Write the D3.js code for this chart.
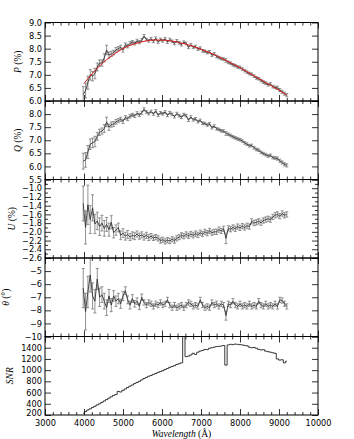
<!DOCTYPE html>
<html><head><meta charset="utf-8">
<script src="https://cdn.jsdelivr.net/npm/d3@7"></script>
<style>body{margin:0;background:#fff}svg{display:block}</style>
</head><body><svg id="c" width="354" height="439"></svg>
<script>
const wavelength = [3980,4040,4100,4160,4220,4280,4340,4400,4460,4520,4580,4640,4700,4760,4820,4880,4940,5000,5060,5120,5180,5240,5300,5360,5420,5480,5540,5600,5660,5720,5780,5840,5900,5960,6020,6080,6140,6200,6260,6320,6380,6440,6500,6560,6620,6680,6740,6800,6860,6920,6980,7040,7100,7160,7220,7280,7340,7400,7460,7520,7580,7640,7700,7760,7820,7880,7940,8000,8060,8120,8180,8240,8300,8360,8420,8480,8540,8600,8660,8720,8780,8840,8900,8960,9020,9080,9140,9200];
const pValues = [6.25,6.40,6.70,7.00,6.95,7.05,7.30,7.45,7.45,7.65,7.95,7.75,7.80,7.85,7.95,8.00,8.05,7.95,8.15,8.10,8.20,8.25,8.20,8.30,8.25,8.32,8.48,8.35,8.30,8.38,8.28,8.40,8.25,8.35,8.30,8.38,8.25,8.35,8.28,8.20,8.30,8.22,8.15,8.25,8.20,8.05,8.15,8.05,8.08,7.98,8.02,7.92,7.90,7.85,7.88,7.75,7.80,7.70,7.66,7.62,7.60,7.55,7.48,7.44,7.38,7.35,7.30,7.28,7.22,7.16,7.10,7.05,7.02,6.95,6.88,6.85,6.78,6.72,6.68,6.62,6.65,6.55,6.52,6.50,6.42,6.35,6.28,6.22];
const pErrors = [0.30,0.28,0.25,0.20,0.18,0.20,0.15,0.12,0.12,0.15,0.18,0.12,0.10,0.09,0.09,0.08,0.08,0.08,0.07,0.07,0.07,0.06,0.06,0.06,0.06,0.06,0.06,0.05,0.05,0.05,0.05,0.05,0.05,0.05,0.05,0.05,0.05,0.05,0.05,0.05,0.05,0.05,0.05,0.05,0.05,0.05,0.05,0.05,0.05,0.05,0.05,0.05,0.05,0.05,0.05,0.05,0.05,0.05,0.05,0.05,0.05,0.07,0.05,0.05,0.05,0.05,0.05,0.05,0.05,0.05,0.05,0.05,0.05,0.05,0.05,0.05,0.05,0.05,0.05,0.05,0.05,0.05,0.05,0.06,0.06,0.06,0.06,0.06];
const fitWave = [4000,4200,4400,4600,4800,5000,5200,5400,5600,5800,6000,6200,6400,6600,6800,7000,7200,7400,7600,7800,8000,8200,8400,8600,8800,9000,9200];
const fitP = [6.67,7.03,7.34,7.60,7.82,8.00,8.14,8.23,8.30,8.33,8.33,8.30,8.25,8.18,8.09,7.98,7.86,7.73,7.58,7.43,7.27,7.10,6.93,6.76,6.59,6.41,6.23];
const qValues = [6.20,6.25,6.55,6.85,6.90,6.95,7.15,7.30,7.35,7.45,7.70,7.50,7.60,7.62,7.70,7.75,7.80,7.72,7.87,7.82,7.92,7.97,7.93,8.03,7.97,8.05,8.18,8.08,8.02,8.10,8.00,8.12,7.96,8.05,8.01,8.08,7.95,8.05,7.99,7.90,8.02,7.94,7.88,7.98,7.94,7.77,7.89,7.78,7.82,7.71,7.76,7.65,7.64,7.58,7.63,7.48,7.54,7.44,7.41,7.36,7.35,7.26,7.23,7.18,7.13,7.09,7.05,7.02,6.97,6.90,6.85,6.79,6.80,6.71,6.65,6.62,6.54,6.49,6.45,6.40,6.42,6.34,6.32,6.30,6.22,6.15,6.08,6.04];
const qErrors = [0.30,0.28,0.25,0.20,0.18,0.20,0.15,0.12,0.12,0.15,0.18,0.12,0.10,0.09,0.09,0.08,0.08,0.08,0.07,0.07,0.07,0.06,0.06,0.06,0.06,0.06,0.06,0.05,0.05,0.05,0.05,0.05,0.05,0.05,0.05,0.05,0.05,0.05,0.05,0.05,0.05,0.05,0.05,0.05,0.05,0.05,0.05,0.05,0.05,0.05,0.05,0.05,0.05,0.05,0.05,0.05,0.05,0.05,0.05,0.05,0.05,0.07,0.05,0.05,0.05,0.05,0.05,0.05,0.05,0.05,0.05,0.05,0.05,0.05,0.05,0.05,0.05,0.05,0.05,0.05,0.05,0.05,0.05,0.06,0.06,0.06,0.06,0.06];
const uValues = [-1.35,-1.90,-1.38,-1.72,-1.45,-1.82,-1.75,-1.88,-1.80,-1.92,-1.83,-1.95,-1.78,-2.02,-1.96,-1.90,-2.08,-2.03,-2.10,-2.06,-2.12,-2.08,-2.10,-2.05,-2.10,-2.07,-2.12,-2.08,-2.13,-2.10,-2.14,-2.12,-2.15,-2.20,-2.18,-2.22,-2.19,-2.21,-2.17,-2.20,-2.15,-2.12,-2.08,-2.10,-2.06,-2.09,-2.05,-2.08,-2.04,-2.07,-2.02,-2.05,-2.00,-2.03,-1.98,-2.02,-2.00,-2.00,-1.95,-1.98,-1.93,-2.15,-1.92,-1.94,-1.90,-1.93,-1.88,-1.91,-1.87,-1.90,-1.86,-1.88,-1.76,-1.80,-1.78,-1.76,-1.79,-1.74,-1.72,-1.70,-1.72,-1.66,-1.62,-1.60,-1.64,-1.58,-1.62,-1.60];
const uErrors = [0.40,0.38,0.45,0.32,0.30,0.22,0.20,0.20,0.18,0.18,0.16,0.15,0.15,0.12,0.12,0.10,0.10,0.10,0.09,0.09,0.08,0.08,0.08,0.07,0.07,0.07,0.07,0.07,0.07,0.06,0.06,0.06,0.06,0.06,0.06,0.06,0.06,0.06,0.06,0.06,0.06,0.06,0.06,0.06,0.06,0.06,0.06,0.06,0.06,0.06,0.06,0.06,0.06,0.06,0.06,0.06,0.06,0.06,0.06,0.06,0.06,0.12,0.06,0.06,0.06,0.06,0.06,0.06,0.06,0.06,0.06,0.06,0.06,0.06,0.06,0.06,0.06,0.06,0.06,0.06,0.06,0.06,0.06,0.06,0.06,0.06,0.06,0.06];
const thetaValues = [-6.3,-8.1,-6.6,-5.3,-6.9,-7.3,-5.6,-7.0,-6.8,-7.3,-7.8,-6.9,-7.6,-6.9,-7.3,-7.1,-7.5,-6.9,-6.5,-7.2,-7.6,-7.1,-7.5,-7.3,-7.7,-7.0,-7.4,-7.6,-7.4,-7.5,-7.7,-7.5,-7.6,-7.4,-7.6,-7.5,-7.2,-7.6,-7.8,-7.6,-7.8,-7.7,-7.6,-7.8,-7.6,-7.4,-7.5,-7.7,-7.6,-7.7,-7.2,-7.6,-7.8,-7.7,-7.8,-7.4,-7.6,-7.5,-7.7,-7.5,-7.6,-8.4,-7.5,-7.6,-7.3,-7.6,-7.7,-7.5,-7.7,-7.6,-7.7,-7.5,-7.7,-7.6,-7.7,-7.3,-7.6,-7.7,-7.5,-7.7,-7.6,-7.7,-7.5,-7.7,-7.2,-7.25,-7.5,-7.7];
const thetaErrors = [1.5,1.4,1.2,1.3,1.0,0.9,0.8,0.7,0.6,0.6,0.6,0.5,0.5,0.4,0.4,0.4,0.35,0.35,0.3,0.3,0.3,0.3,0.25,0.25,0.25,0.25,0.2,0.2,0.2,0.2,0.2,0.2,0.2,0.2,0.2,0.2,0.2,0.2,0.2,0.2,0.2,0.2,0.2,0.2,0.2,0.2,0.2,0.2,0.2,0.2,0.2,0.2,0.2,0.2,0.2,0.2,0.2,0.2,0.2,0.2,0.2,0.35,0.2,0.2,0.2,0.2,0.2,0.2,0.2,0.2,0.2,0.2,0.2,0.2,0.2,0.2,0.2,0.2,0.2,0.2,0.2,0.2,0.2,0.2,0.2,0.2,0.2,0.2];
const snrValues = [230,260,290,310,335,355,380,400,425,450,475,500,525,550,565,620,610,640,665,690,715,735,760,780,800,825,850,870,890,905,925,940,960,975,990,1010,1030,1050,1065,1080,1100,1115,1130,1620,1240,1250,1270,1300,1280,1320,1340,1350,1370,1365,1390,1400,1410,1420,1425,1430,1440,1090,1450,1460,1455,1465,1460,1455,1450,1440,1435,1410,1400,1405,1390,1370,1360,1365,1340,1330,1320,1310,1300,1200,1180,1185,1130,1160];
const xTickValues = [3000,4000,5000,6000,7000,8000,9000,10000];
const pTicks = [6.0,6.5,7.0,7.5,8.0,8.5,9.0];
const qTicks = [5.5,6.0,6.5,7.0,7.5,8.0,8.5];
const uTicks = [-2.6,-2.4,-2.2,-2.0,-1.8,-1.6,-1.4,-1.2,-1.0,-0.8];
const thetaTicks = [-10,-9,-8,-7,-6,-5,-4];
const snrTicks = [200,400,600,800,1000,1200,1400,1600];

const svg = d3.select("#c");
const L = 45, R = 318, T = 22.5, B = 415, n = 5, ph = (B - T) / n;
const x = d3.scaleLinear().domain([3000, 10000]).range([L, R]);
const xMinor = d3.range(3000, 10001, 200).filter(v => v % 1000 !== 0);

const panels = [
  {vals: pValues, errs: pErrors, domain: [6, 9], ticks: pTicks, fmt: d3.format(".1f"), label: ["P", " (%)"], lx: 21, keepTop: true},
  {vals: qValues, errs: qErrors, domain: [5.5, 8.5], ticks: qTicks, fmt: d3.format(".1f"), label: ["Q", " (%)"], lx: 21},
  {vals: uValues, errs: uErrors, domain: [-2.6, -0.8], ticks: uTicks, fmt: d3.format(".1f"), label: ["U", " (%)"], lx: 15, minorStep: 0.1},
  {vals: thetaValues, errs: thetaErrors, domain: [-10, -4], ticks: thetaTicks, fmt: d3.format("d"), label: ["θ", " (°)"], lx: 9},
  {vals: snrValues, errs: null, domain: [200, 1600], ticks: snrTicks, fmt: d3.format("d"), label: ["SNR", ""], lx: 13, step: true}
];

const defs = svg.append("defs");
const font = "DejaVu Sans";

panels.forEach((p, i) => {
  const top = T + i * ph, bot = top + ph;
  const y = d3.scaleLinear().domain(p.domain).range([bot, top]);
  const cid = "clip" + i;
  defs.append("clipPath").attr("id", cid).append("rect").attr("x", L).attr("y", top).attr("width", R - L).attr("height", ph);
  const g = svg.append("g");
  const data = wavelength.map((w, k) => ({w, v: p.vals[k], e: p.errs ? p.errs[k] : 0}));
  const dg = g.append("g").attr("clip-path", `url(#${cid})`);
  if (p.step) {
    dg.append("path").datum(data)
      .attr("d", d3.line().x(d => x(d.w)).y(d => y(d.v)).curve(d3.curveStep))
      .attr("fill", "none").attr("stroke", "#222").attr("stroke-width", 0.9);
  } else {
    const eb = dg.append("g").attr("stroke", "#777").attr("stroke-width", 0.8);
    eb.selectAll("line.v").data(data).join("line")
      .attr("x1", d => x(d.w)).attr("x2", d => x(d.w))
      .attr("y1", d => y(d.v - d.e)).attr("y2", d => y(d.v + d.e));
    eb.selectAll("line.t").data(data).join("line")
      .attr("x1", d => x(d.w) - 1.5).attr("x2", d => x(d.w) + 1.5)
      .attr("y1", d => y(d.v + d.e)).attr("y2", d => y(d.v + d.e));
    eb.selectAll("line.b").data(data).join("line")
      .attr("x1", d => x(d.w) - 1.5).attr("x2", d => x(d.w) + 1.5)
      .attr("y1", d => y(d.v - d.e)).attr("y2", d => y(d.v - d.e));
    dg.append("path").datum(data)
      .attr("d", d3.line().x(d => x(d.w)).y(d => y(d.v)))
      .attr("fill", "none").attr("stroke", "#333").attr("stroke-width", 0.9);
    if (i === 0) {
      dg.append("path").datum(fitWave.map((w, k) => ({w, v: fitP[k]})))
        .attr("d", d3.line().x(d => x(d.w)).y(d => y(d.v)).curve(d3.curveMonotoneX))
        .attr("fill", "none").attr("stroke", "#e0201c").attr("stroke-width", 1);
    }
  }
  const labelTicks = p.keepTop ? p.ticks : p.ticks.slice(0, -1);
  const leftAxis = g.append("g").attr("transform", `translate(${L},0)`)
    .call(d3.axisLeft(y).tickValues(p.ticks).tickSizeInner(-6).tickSizeOuter(0).tickPadding(3)
      .tickFormat(v => labelTicks.includes(v) ? p.fmt(v) : ""));
  if (i === n - 1) {
    leftAxis.selectAll(".tick text").filter(v => v === p.ticks[0]).attr("dy", "0.05em");
  }
  g.append("g").attr("transform", `translate(${R},0)`)
    .call(d3.axisRight(y).tickValues(p.ticks).tickSizeInner(-6).tickSizeOuter(0).tickFormat(""));
  if (p.minorStep) {
    const mv = d3.range(Math.round(p.domain[0] / p.minorStep), Math.round(p.domain[1] / p.minorStep) + 1)
      .map(k => +(k * p.minorStep).toFixed(2)).filter(v => !p.ticks.some(t => Math.abs(t - v) < 1e-6));
    g.append("g").attr("transform", `translate(${L},0)`).call(d3.axisLeft(y).tickValues(mv).tickSizeInner(-3).tickSizeOuter(0).tickFormat(""));
    g.append("g").attr("transform", `translate(${R},0)`).call(d3.axisRight(y).tickValues(mv).tickSizeInner(-3).tickSizeOuter(0).tickFormat(""));
  }
  g.append("g").attr("transform", `translate(0,${top})`)
    .call(d3.axisTop(x).tickValues(xTickValues).tickSizeInner(-6).tickSizeOuter(0).tickFormat(""));
  g.append("g").attr("transform", `translate(0,${top})`)
    .call(d3.axisTop(x).tickValues(xMinor).tickSizeInner(-3).tickSizeOuter(0).tickFormat(""));
  g.append("g").attr("transform", `translate(0,${bot})`)
    .call(d3.axisBottom(x).tickValues(xTickValues).tickSizeInner(-6).tickSizeOuter(0).tickPadding(5)
      .tickFormat(i === n - 1 ? d3.format("d") : () => ""));
  g.append("g").attr("transform", `translate(0,${bot})`)
    .call(d3.axisBottom(x).tickValues(xMinor).tickSizeInner(-3).tickSizeOuter(0).tickFormat(""));
  g.selectAll(".domain").remove();
  g.selectAll(".tick line").attr("stroke", "#000").attr("stroke-width", 0.8);
  g.selectAll(".tick text").attr("font-family", font).attr("font-size", 8.2).attr("fill", "#000");
  g.append("rect").attr("x", L).attr("y", top).attr("width", R - L).attr("height", ph)
    .attr("fill", "none").attr("stroke", "#000").attr("stroke-width", 1);
  const lab = svg.append("text").attr("transform", `translate(${p.lx},${(top + bot) / 2}) rotate(-90)`)
    .attr("text-anchor", "middle").attr("font-family", "Liberation Serif").attr("font-size", 9.5).attr("fill", "#000");
  lab.append("tspan").attr("font-style", "italic").text(p.label[0]);
  if (p.label[1]) lab.append("tspan").text(p.label[1]);
});

const xl = svg.append("text").attr("x", (L + R) / 2).attr("y", 437).attr("text-anchor", "middle")
  .attr("font-family", "Liberation Serif").attr("font-size", 9.5).attr("fill", "#000");
xl.append("tspan").attr("font-style", "italic").text("Wavelength");
xl.append("tspan").text(" (Å)");
</script></body></html>
